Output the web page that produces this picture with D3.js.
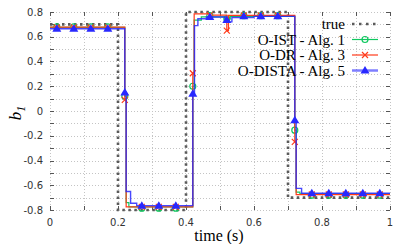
<!DOCTYPE html>
<html>
<head>
<meta charset="utf-8">
<script src="https://cdn.jsdelivr.net/npm/d3@7"></script>
<style>
  body { margin: 0; background: #fff; }
  svg { display: block; }
</style>
</head>
<body>
<div id="chart"></div>
<script>
// true signal (step changes)
var trueSteps = [[0, 0.7], [0.2, -0.8], [0.4, 0.8], [0.7, -0.7], [1, -0.7]];

// estimates, piecewise constant [time, value]
var istSteps = [[0, 0.675], [0.22, 0.12], [0.224, -0.74], [0.232, -0.775], [0.42, 0.2], [0.424, 0.735],
  [0.445, 0.76], [0.515, 0.745], [0.53, 0.765], [0.72, -0.155], [0.724, -0.655], [0.735, -0.67], [1, -0.67]];
var drSteps = [[0, 0.677], [0.22, 0.09], [0.224, -0.775], [0.42, 0.305], [0.424, 0.785], [0.47, 0.775],
  [0.52, 0.65], [0.525, 0.772], [0.72, -0.25], [0.724, -0.675], [1, -0.675]];
var distaSteps = [[0, 0.665], [0.22, 0.15], [0.224, -0.65], [0.237, -0.745], [0.255, -0.765], [0.42, 0.14],
  [0.425, 0.69], [0.435, 0.745], [0.46, 0.76], [0.515, 0.72], [0.535, 0.755], [0.6, 0.765],
  [0.72, -0.075], [0.724, -0.625], [0.74, -0.665], [1, -0.665]];

// marker samples
var markTimes = [0.02, 0.07, 0.12, 0.17, 0.22, 0.27, 0.32, 0.37, 0.42, 0.47,
  0.52, 0.57, 0.62, 0.67, 0.72, 0.77, 0.82, 0.87, 0.92, 0.97];
var istMarks = [0.68, 0.68, 0.68, 0.68, 0.12, -0.785, -0.785, -0.785, 0.2, 0.77,
  0.745, 0.77, 0.77, 0.77, -0.155, -0.68, -0.68, -0.68, -0.68, -0.68];
var drMarks = [0.675, 0.675, 0.675, 0.675, 0.09, -0.775, -0.775, -0.775, 0.305, 0.775,
  0.65, 0.772, 0.772, 0.772, -0.25, -0.675, -0.675, -0.675, -0.675, -0.675];
var distaMarks = [0.665, 0.665, 0.665, 0.665, 0.15, -0.765, -0.765, -0.765, 0.14, 0.76,
  0.735, 0.765, 0.765, 0.765, -0.075, -0.665, -0.665, -0.665, -0.665, -0.665];

var xTicks = [0, 0.1, 0.2, 0.3, 0.4, 0.5, 0.6, 0.7, 0.8, 0.9, 1];
var yTicks = [-0.8, -0.7, -0.6, -0.5, -0.4, -0.3, -0.2, -0.1, 0, 0.1, 0.2, 0.3, 0.4, 0.5, 0.6, 0.7, 0.8];
var xLabels = [0, 0.2, 0.4, 0.6, 0.8, 1];
var yLabels = [-0.8, -0.6, -0.4, -0.2, 0, 0.2, 0.4, 0.6, 0.8];

var legendNames = ["true", "O-IST - Alg. 1", "O-DR - Alg. 3", "O-DISTA - Alg. 5"];

var width = 407, height = 244;
var pLeft = 50, pRight = 390, pTop = 12, pBottom = 210;

var green = "#10c860", red = "#ff3a1a", blue = "#2828ff", trueCol = "#5a5a5a";

var x = d3.scaleLinear().domain([0, 1]).range([pLeft, pRight]);
var y = d3.scaleLinear().domain([-0.8, 0.8]).range([pBottom, pTop]);

var svg = d3.select("#chart").append("svg")
  .attr("width", width)
  .attr("height", height);

// grid
var grid = svg.append("g")
  .attr("stroke", "#c4c4c4")
  .attr("stroke-width", 1)
  .attr("stroke-dasharray", "1,2");
grid.selectAll(".gx").data(xTicks).enter().append("line")
  .attr("x1", function (d) { return Math.round(x(d)) + 0.5; })
  .attr("x2", function (d) { return Math.round(x(d)) + 0.5; })
  .attr("y1", pTop).attr("y2", pBottom);
grid.selectAll(".gy").data(yTicks).enter().append("line")
  .attr("y1", function (d) { return Math.round(y(d)) + 0.5; })
  .attr("y2", function (d) { return Math.round(y(d)) + 0.5; })
  .attr("x1", pLeft).attr("x2", pRight);

// tick marks on all four sides
var ticks = svg.append("g").attr("stroke", "#555").attr("stroke-width", 1);
xTicks.forEach(function (d) {
  var px = Math.round(x(d)) + 0.5;
  ticks.append("line").attr("x1", px).attr("x2", px).attr("y1", pBottom).attr("y2", pBottom - 4);
  ticks.append("line").attr("x1", px).attr("x2", px).attr("y1", pTop).attr("y2", pTop + 4);
});
yTicks.forEach(function (d) {
  var py = Math.round(y(d)) + 0.5;
  ticks.append("line").attr("y1", py).attr("y2", py).attr("x1", pLeft).attr("x2", pLeft + 4);
  ticks.append("line").attr("y1", py).attr("y2", py).attr("x1", pRight).attr("x2", pRight - 4);
});

// tick labels
svg.append("g").selectAll("text").data(xLabels).enter().append("text")
  .attr("x", function (d) { return x(d); })
  .attr("y", 226)
  .attr("text-anchor", "middle")
  .attr("font-family", "DejaVu Sans, sans-serif")
  .attr("font-size", 10)
  .attr("fill", "#333")
  .text(function (d) { return d; });
svg.append("g").selectAll("text").data(yLabels).enter().append("text")
  .attr("x", 43)
  .attr("y", function (d) { return y(d) + 3.5; })
  .attr("text-anchor", "end")
  .attr("font-family", "DejaVu Sans, sans-serif")
  .attr("font-size", 10)
  .attr("fill", "#333")
  .text(function (d) { return d; });

// axis titles
svg.append("text")
  .attr("x", 219).attr("y", 241)
  .attr("text-anchor", "middle")
  .attr("font-family", "Liberation Serif, serif")
  .attr("font-size", 16)
  .text("time (s)");
var yt = svg.append("text")
  .attr("transform", "translate(21,113) rotate(-90)")
  .attr("text-anchor", "middle")
  .attr("font-family", "Liberation Serif, serif")
  .attr("font-style", "italic")
  .attr("font-size", 17);
yt.append("tspan").text("b");
yt.append("tspan").attr("font-size", 12).attr("dy", 4).text("1");

var line = d3.line()
  .x(function (d) { return x(d[0]); })
  .y(function (d) { return y(d[1]); })
  .curve(d3.curveStepAfter);

svg.append("path").datum(trueSteps)
  .attr("d", line)
  .attr("fill", "none")
  .attr("stroke", trueCol)
  .attr("stroke-width", 2.6)
  .attr("stroke-dasharray", "2.5,3.5");

function drawSeries(steps, marks, color, kind, w, op) {
  svg.append("path").datum(steps)
    .attr("d", line)
    .attr("fill", "none")
    .attr("stroke", color)
    .attr("stroke-opacity", op)
    .attr("stroke-width", w);
  var pts = markTimes.map(function (t, i) { return [t, marks[i]]; });
  pts.forEach(function (p) {
    drawMarker(x(p[0]), y(p[1]), color, kind);
  });
}

function drawMarker(cx, cy, color, kind) {
  if (kind == "circle") {
    svg.append("circle").attr("cx", cx).attr("cy", cy).attr("r", 3)
      .attr("fill", "none").attr("stroke", color).attr("stroke-width", 1.2);
  } else if (kind == "cross") {
    svg.append("path")
      .attr("d", "M" + (cx - 3) + "," + (cy - 3) + "L" + (cx + 3) + "," + (cy + 3) +
        "M" + (cx - 3) + "," + (cy + 3) + "L" + (cx + 3) + "," + (cy - 3))
      .attr("stroke", color).attr("stroke-width", 1.2);
  } else {
    svg.append("path")
      .attr("d", "M" + cx + "," + (cy - 4.5) + "L" + (cx + 4.5) + "," + (cy + 3) + "L" + (cx - 4.5) + "," + (cy + 3) + "Z")
      .attr("fill", color);
  }
}

drawSeries(istSteps, istMarks, green, "circle", 1.2, 1);
drawSeries(drSteps, drMarks, red, "cross", 1.2, 1);
drawSeries(distaSteps, distaMarks, blue, "triangle", 1.4, 0.85);

// legend
var kinds = ["true", "circle", "cross", "triangle"];
var colors = [trueCol, green, red, blue];
legendNames.forEach(function (name, i) {
  var ly = 24 + i * 15.5;
  svg.append("text")
    .attr("x", 345).attr("y", ly + 5)
    .attr("text-anchor", "end")
    .attr("font-family", "Liberation Serif, serif")
    .attr("font-size", 15)
    .text(name);
  var l = svg.append("line")
    .attr("x1", 352).attr("x2", 378)
    .attr("y1", ly).attr("y2", ly);
  if (i == 0) {
    l.attr("stroke", trueCol).attr("stroke-width", 2.6).attr("stroke-dasharray", "2.5,4.5");
  } else {
    l.attr("stroke", colors[i]).attr("stroke-width", i == 3 ? 2.5 : 1.2).attr("stroke-opacity", i == 3 ? 0.6 : 1);
    drawMarker(365, ly, colors[i], kinds[i]);
  }
});
</script>
</body>
</html>
